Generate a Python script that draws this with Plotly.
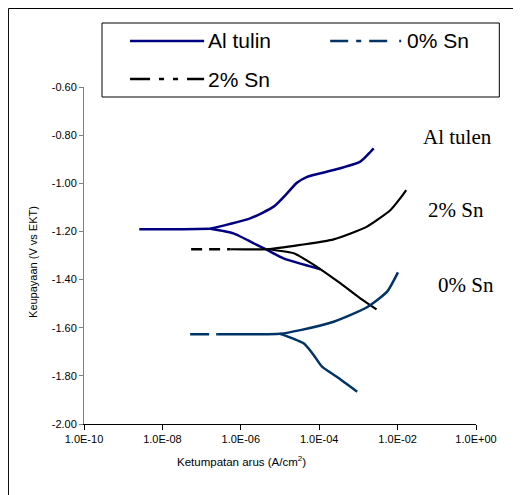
import plotly.graph_objects as go

# ---------------- data (current density A/cm2, potential V vs EKT) ----------------
al_flat_i = [2.57e-9, 3.5e-8, 1.66e-7]
al_flat_v = [-1.191, -1.191, -1.189]
al_anod_i = [1.66e-7, 1.74e-6, 6.9e-6, 1.51e-5, 2.7e-5, 4.9e-5, 2.34e-4, 1.12e-3, 2.04e-3, 2.45e-3]
al_anod_v = [-1.189, -1.146, -1.097, -1.042, -0.998, -0.973, -0.945, -0.910, -0.869, -0.855]
al_cath_i = [1.66e-7, 6.5e-7, 2.57e-6, 4.7e-6, 1.23e-5, 1.07e-4]
al_cath_v = [-1.189, -1.208, -1.256, -1.277, -1.312, -1.357]

sn2_tail_i = [5.4e-8, 5.4e-7]
sn2_tail_v = [-1.274, -1.274]
sn2_anod_i = [5.4e-7, 4.7e-6, 3.3e-5, 2.34e-4, 1.66e-3, 6.6e-3, 1.17e-2, 1.66e-2]
sn2_anod_v = [-1.274, -1.274, -1.256, -1.233, -1.180, -1.111, -1.062, -1.028]
sn2_cath_i = [4.7e-6, 2.24e-5, 8.7e-5, 3.5e-4, 1.12e-3, 2.9e-3]
sn2_cath_v = [-1.274, -1.291, -1.347, -1.416, -1.478, -1.524]

sn0_tail_i = [5.1e-8, 2.5e-7]
sn0_tail_v = [-1.627, -1.627]
sn0_anod_i = [2.5e-7, 1.0e-5, 3.3e-5, 2.34e-4, 1.66e-3, 5.4e-3, 1.02e-2]
sn0_anod_v = [-1.627, -1.625, -1.610, -1.575, -1.515, -1.450, -1.370]
sn0_cath_i = [1.0e-5, 1.23e-5, 4.0e-5, 7.2e-5, 1.18e-4, 2.8e-4, 9.3e-4]
sn0_cath_v = [-1.625, -1.630, -1.665, -1.713, -1.762, -1.804, -1.866]

x_tickvals = [1e-10, 1e-8, 1e-6, 1e-4, 1e-2, 1e0]
x_ticktext = ["1.0E-10", "1.0E-08", "1.0E-06", "1.0E-04", "1.0E-02", "1.0E+00"]
y_tickvals = [-2.0, -1.8, -1.6, -1.4, -1.2, -1.0, -0.8, -0.6]
y_ticktext = ["-2.00", "-1.80", "-1.60", "-1.40", "-1.20", "-1.00", "-0.80", "-0.60"]

legend_names = ["Al tulin", "0% Sn", "2% Sn"]
curve_labels = ["Al tulen", "2% Sn", "0% Sn"]

C_AL = "#000080"
C_SN0 = "#003366"
C_SN2 = "#000000"

OFF = 8  # page body margin
W, H = 521 - OFF, 495 - OFF
L, R, T, B = 84 - OFF, 475.7 - OFF, 87 - OFF, 424 - OFF

def px(x):
    return (x - OFF - L) / (R - L)

def py(y):
    return (B - (y - OFF)) / (B - T)

fig = go.Figure()

def add(xs, ys, color, dash="solid", width=2.5):
    fig.add_trace(go.Scatter(x=xs, y=ys, mode="lines", showlegend=False,
                             line=dict(color=color, width=width, dash=dash, shape="spline", smoothing=0.55)))

add(al_flat_i, al_flat_v, C_AL)
add(al_anod_i, al_anod_v, C_AL)
add(al_cath_i, al_cath_v, C_AL)

add(sn2_tail_i, sn2_tail_v, C_SN2, dash="11px,7px")
add(sn2_anod_i, sn2_anod_v, C_SN2, width=2.2)
add(sn2_cath_i, sn2_cath_v, C_SN2, width=2.2)

add(sn0_tail_i, sn0_tail_v, C_SN0, dash="19px,7px")
add(sn0_anod_i, sn0_anod_v, C_SN0)
add(sn0_cath_i, sn0_cath_v, C_SN0)

SANS = "Liberation Sans, Arial, sans-serif"
SERIF = "Liberation Serif, Times New Roman, serif"

shapes = []
# outer frame (only top/left visible)
shapes.append(dict(type="rect", xref="paper", yref="paper", x0=px(8.5), x1=px(560), y0=py(530), y1=py(8.5),
                   line=dict(color="black", width=1), fillcolor="rgba(0,0,0,0)", layer="below"))
# legend box
shapes.append(dict(type="rect", xref="paper", yref="paper", x0=px(102), x1=px(499), y0=py(97), y1=py(23),
                   line=dict(color="black", width=1), fillcolor="white", layer="above"))
# legend samples
shapes.append(dict(type="line", xref="paper", yref="paper", x0=px(130), x1=px(204), y0=py(41), y1=py(41),
                   line=dict(color=C_AL, width=2.5), layer="above"))
shapes.append(dict(type="line", xref="paper", yref="paper", x0=px(330), x1=px(404), y0=py(41), y1=py(41),
                   line=dict(color=C_SN0, width=2.5, dash="18px,8px,5px,8px,18px,12px,2px,20px"), layer="above"))
shapes.append(dict(type="line", xref="paper", yref="paper", x0=px(130), x1=px(204), y0=py(79), y1=py(79),
                   line=dict(color=C_SN2, width=2.5, dash="20px,9px,5px,9px,5px,9px,20px"), layer="above"))

annotations = []
def ann(text, x, y, size, font=SANS, xanchor="left", angle=0, color="black"):
    annotations.append(dict(text=text, xref="paper", yref="paper", x=px(x), y=py(y), showarrow=False,
                            xanchor=xanchor, yanchor="middle", textangle=angle,
                            font=dict(family=font, size=size, color=color)))

ann(legend_names[0], 206, 41, 21)
ann(legend_names[1], 405, 41, 21)
ann(legend_names[2], 206, 79, 21)

ann(curve_labels[0], 421, 137, 21, font=SERIF)
ann(curve_labels[1], 426, 210, 21, font=SERIF)
ann(curve_labels[2], 436, 285, 21, font=SERIF)

ann("Ketumpatan arus (A/cm<sup>2</sup>)", 241, 461, 11.5, xanchor="center")
ann("Keupayaan (V vs EKT)", 33, 262, 11, xanchor="center", angle=-90)

fig.update_layout(
    width=W, height=H,
    margin=dict(l=L, r=W - R, t=T, b=H - B, pad=0),
    paper_bgcolor="white", plot_bgcolor="white",
    showlegend=False,
    shapes=shapes, annotations=annotations,
    font=dict(family=SANS, size=11, color="black"),
)
fig.update_xaxes(type="log", range=[-10, 0], tickvals=x_tickvals, ticktext=x_ticktext,
                 showgrid=False, zeroline=False, showline=True, linecolor="black", linewidth=1,
                 ticks="outside", ticklen=5, tickcolor="black", tickfont=dict(size=11, family=SANS))
fig.update_yaxes(range=[-2.0, -0.6], tickvals=y_tickvals, ticktext=y_ticktext,
                 showgrid=False, zeroline=False, showline=True, linecolor="#808080", linewidth=1,
                 ticks="outside", ticklen=4, tickcolor="#808080", tickfont=dict(size=11, family=SANS))

fig.write_html("out.html")
